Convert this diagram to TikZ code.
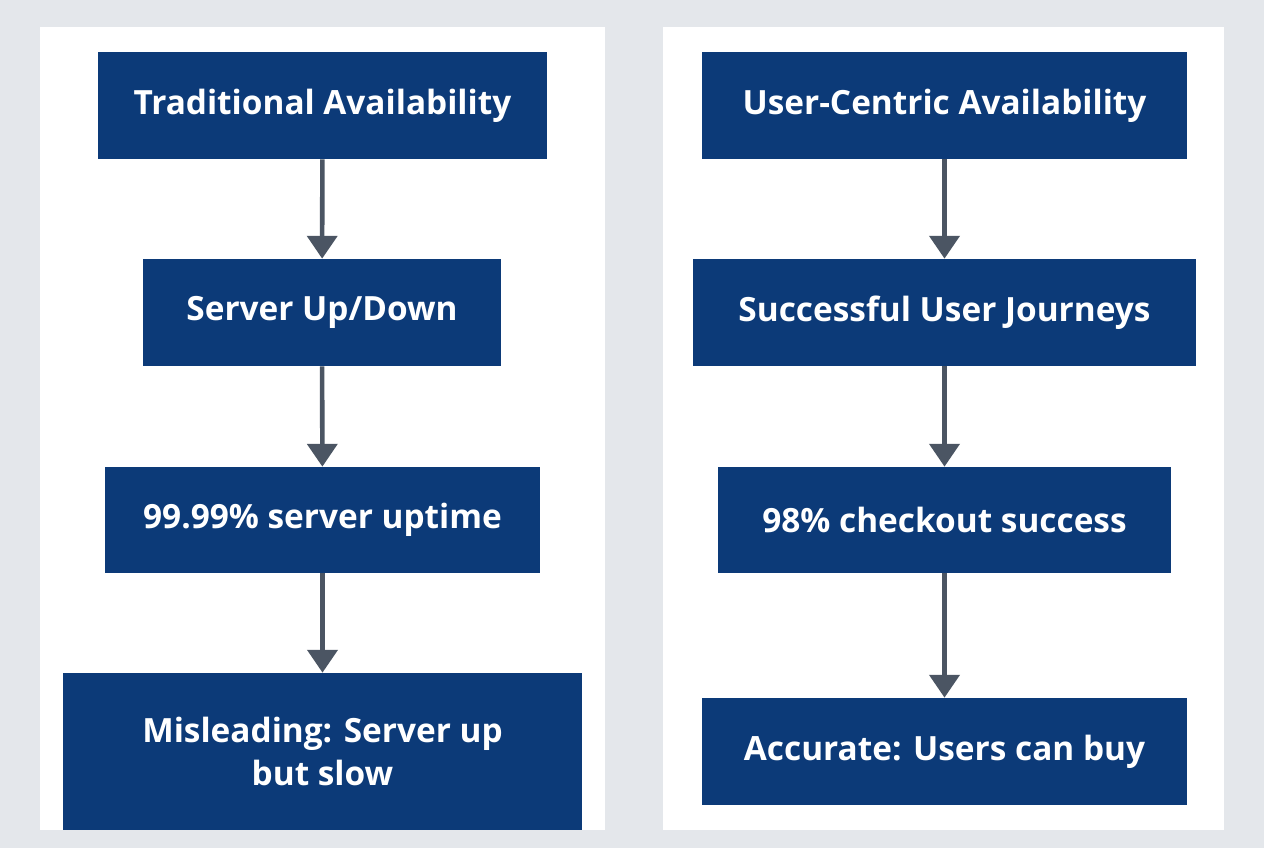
\documentclass[tikz,border=0pt]{standalone}
\usepackage{fontspec}
\setmainfont{Open Sans}
\usetikzlibrary{arrows.meta}
\definecolor{boxblue}{HTML}{0C3A78}
\definecolor{arrowgray}{HTML}{4B5563}
\definecolor{bggray}{HTML}{E4E7EB}
\tikzset{
  box/.style={fill=boxblue,text=white,inner sep=0pt,align=center,
    font=\fontsize{19}{25}\selectfont\bfseries},
  flow/.style={draw=arrowgray,line width=2.6pt,-{Triangle[length=13pt,width=17pt]}}
}
\begin{document}
\begin{tikzpicture}[x=0.02cm,y=-0.02cm]
\fill[bggray] (0,0) rectangle (1264,848);
\fill[white] (40,27) rectangle (605,830);
\fill[white] (663,27) rectangle (1224,830);
% left column
\node[box,minimum width=449*0.02cm,minimum height=107*0.02cm] (l1) at (322.5,105.5) {Traditional Availability};
\node[box,minimum width=358*0.02cm,minimum height=107*0.02cm] (l2) at (322,312.5) {Server Up/Down};
\node[box,minimum width=435*0.02cm,minimum height=106*0.02cm] (l3) at (322.5,520) {99.99\% server uptime};
\node[box,minimum width=519*0.02cm,minimum height=157*0.02cm] (l4) at (322.5,751.5) {Misleading: Server up\\but slow};
% right column
\node[box,minimum width=485*0.02cm,minimum height=107*0.02cm] (r1) at (944.5,105.5) {User-Centric Availability};
\node[box,minimum width=503*0.02cm,minimum height=107*0.02cm] (r2) at (944.5,312.5) {Successful User Journeys};
\node[box,minimum width=453*0.02cm,minimum height=106*0.02cm] (r3) at (944.5,520) {98\% checkout success};
\node[box,minimum width=485*0.02cm,minimum height=107*0.02cm] (r4) at (944.5,751.5) {Accurate: Users can buy};
\foreach \a/\b in {l1/l2,l2/l3,l3/l4,r1/r2,r2/r3,r3/r4}
  \draw[flow] (\a) -- (\b);
\end{tikzpicture}
\end{document}
